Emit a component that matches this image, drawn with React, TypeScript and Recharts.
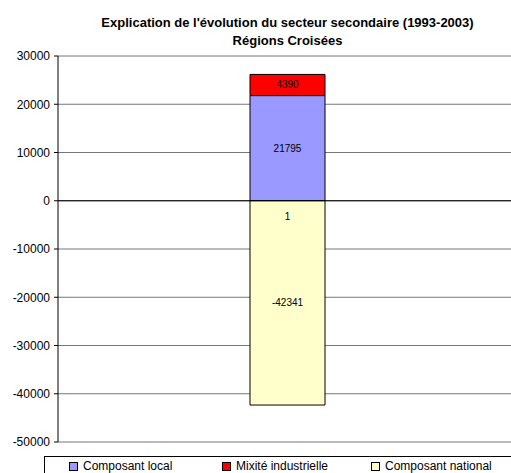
import React from 'react';
import { BarChart, Bar, XAxis, YAxis, CartesianGrid, LabelList, Legend, ReferenceLine } from 'recharts';

const categories = ['Régions Croisées'];
const seriesNames = ['Composant local', 'Mixité industrielle', 'Composant national'];
const composantLocal = [21795];
const mixiteIndustrielle = [4390];
const composantNational = [-42341];
const nationalExtraLabel = ['1'];
const yTicks = [-50000, -40000, -30000, -20000, -10000, 0, 10000, 20000, 30000];

const titleLine1 = "Explication de l'évolution du secteur secondaire (1993-2003)";
const titleLine2 = 'Régions Croisées';

const data = categories.map((c, i) => ({
  name: c,
  local: composantLocal[i],
  mixite: mixiteIndustrielle[i],
  national: composantNational[i],
  extra: nationalExtraLabel[i],
}));

const FONT = '"Liberation Sans", Arial, sans-serif';

const CenterLabel = (props: any) => {
  const { x, y, width, height, value } = props;
  const top = Math.min(y, y + height);
  const h = Math.abs(height);
  return (
    <text x={x + width / 2} y={top + h / 2} textAnchor="middle" dominantBaseline="central" fontSize={10} fill="#000" fontFamily={FONT}>
      {value}
    </text>
  );
};

const TopLabel = (props: any) => {
  const { x, y, width, height, value } = props;
  const top = Math.min(y, y + height);
  return (
    <text x={x + width / 2} y={top + 16} textAnchor="middle" dominantBaseline="central" fontSize={10} fill="#000" fontFamily={FONT}>
      {value}
    </text>
  );
};

const LegendContent = (props: any) => {
  const payload = [...(props.payload || [])].sort(
    (a: any, b: any) => seriesNames.indexOf(a.value) - seriesNames.indexOf(b.value)
  );
  const widths = [153, 149, 160];
  return (
    <div style={{ border: '1px solid #000', width: 520, height: 26, boxSizing: 'border-box', display: 'flex', alignItems: 'flex-start', paddingLeft: 24, paddingTop: 2, fontFamily: FONT, fontSize: 12, background: '#fff' }}>
      {payload.map((p: any, i: number) => (
        <div key={p.value} style={{ width: widths[i], display: 'flex', alignItems: 'center', whiteSpace: 'nowrap', height: 14 }}>
          <span style={{ display: 'inline-block', width: 7, height: 7, border: '1px solid #000', background: p.color, marginRight: 5 }} />
          <span style={{ lineHeight: '14px' }}>{p.value}</span>
        </div>
      ))}
    </div>
  );
};

export default function App() {
  return (
    <div style={{ position: 'absolute', left: 0, top: 0, width: 511, height: 473, overflow: 'hidden', background: '#fff' }}>
      <div style={{ position: 'absolute', left: 58, width: 459, top: 14, textAlign: 'center', fontFamily: FONT, fontWeight: 'bold', fontSize: 13, lineHeight: '18px', color: '#000' }}>
        <div>{titleLine1}</div>
        <div>{titleLine2}</div>
      </div>
      <div style={{ position: 'absolute', left: 0, top: 0 }}>
        <BarChart width={530} height={490} data={data} stackOffset="sign" margin={{ top: 56, right: 13, bottom: 48, left: 0 }}>
          <CartesianGrid vertical={false} stroke="#777" strokeDasharray="" />
          <XAxis dataKey="name" hide />
          <YAxis
            width={58}
            domain={[-50000, 30000]}
            ticks={yTicks}
            interval={0}
            axisLine={{ stroke: '#000' }}
            tickLine={{ stroke: '#000' }}
            tickSize={4}
            tickMargin={4}
            tick={{ fontSize: 12, fill: '#000', fontFamily: FONT }}
          />
          <ReferenceLine y={0} stroke="#000" />
          <Legend
            layout="horizontal"
            verticalAlign="middle"
            align="center"
            content={<LegendContent />}
            wrapperStyle={{ position: 'absolute', top: 456, left: 44, width: 520 }}
          />
          <Bar dataKey="local" name={seriesNames[0]} stackId="a" fill="#9999FF" stroke="#000" strokeWidth={1} barSize={75} isAnimationActive={false}>
            <LabelList dataKey="local" content={<CenterLabel />} />
          </Bar>
          <Bar dataKey="mixite" name={seriesNames[1]} stackId="a" fill="#FF0000" stroke="#000" strokeWidth={1} barSize={75} isAnimationActive={false}>
            <LabelList dataKey="mixite" content={<CenterLabel />} />
          </Bar>
          <Bar dataKey="national" name={seriesNames[2]} stackId="a" fill="#FFFFCC" stroke="#000" strokeWidth={1} barSize={75} isAnimationActive={false}>
            <LabelList dataKey="national" content={<CenterLabel />} />
            <LabelList dataKey="extra" content={<TopLabel />} />
          </Bar>
        </BarChart>
      </div>
    </div>
  );
}
